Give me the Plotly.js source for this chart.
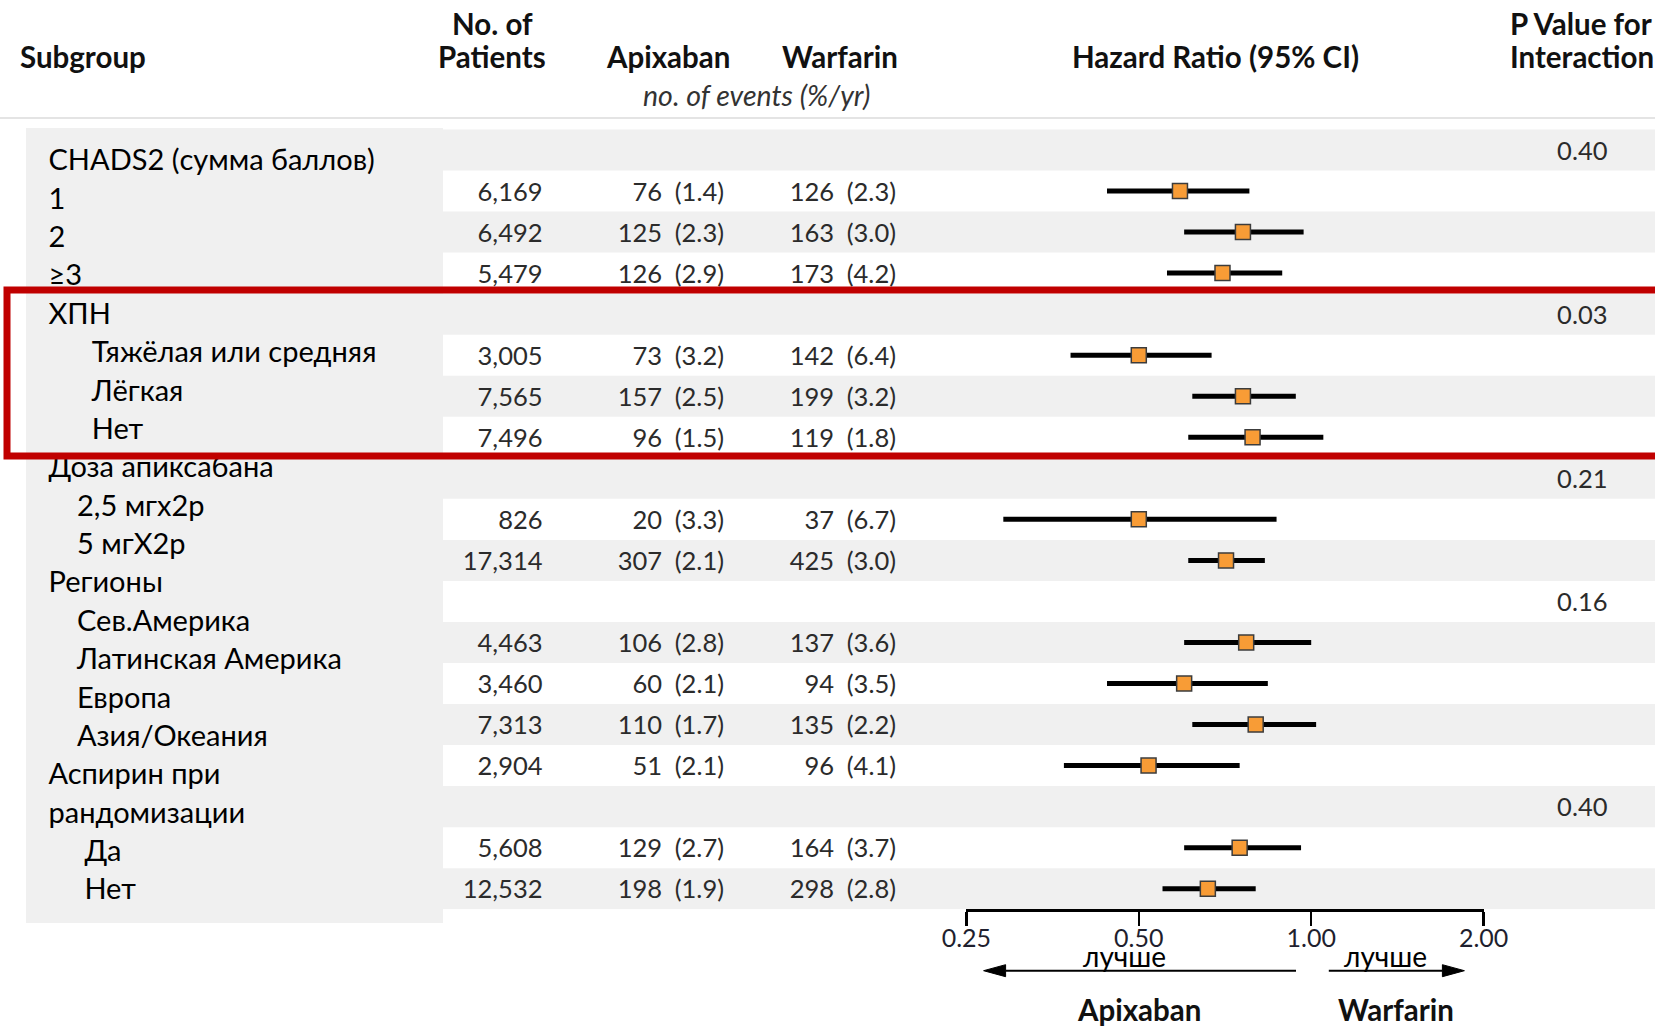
<!DOCTYPE html>
<html>
<head>
<meta charset="utf-8">
<script src="https://cdn.plot.ly/plotly-3.0.1.min.js"></script>
<style>
  html, body { margin: 0; padding: 0; background: #ffffff; }
  #chart { width: 1655px; height: 1028px; }
</style>
</head>
<body>
<div id="chart"></div>
<script>
// ---- Table data: one entry per row of the forest plot (header rows are blank) ----
const PATIENTS = ['', '6,169', '6,492', '5,479', '', '3,005', '7,565', '7,496', '', '826', '17,314', '',
                  '4,463', '3,460', '7,313', '2,904', '', '5,608', '12,532'];
const APIXABAN_EVENTS = ['', '76 (1.4)', '125 (2.3)', '126 (2.9)', '', '73 (3.2)', '157 (2.5)', '96 (1.5)', '',
                         '20 (3.3)', '307 (2.1)', '', '106 (2.8)', '60 (2.1)', '110 (1.7)', '51 (2.1)', '',
                         '129 (2.7)', '198 (1.9)'];
const WARFARIN_EVENTS = ['', '126 (2.3)', '163 (3.0)', '173 (4.2)', '', '142 (6.4)', '199 (3.2)', '119 (1.8)', '',
                         '37 (6.7)', '425 (3.0)', '', '137 (3.6)', '94 (3.5)', '135 (2.2)', '96 (4.1)', '',
                         '164 (3.7)', '298 (2.8)'];
const HR    = [null, 0.59, 0.76, 0.70, null, 0.50, 0.76, 0.79, null, 0.50, 0.71, null, 0.77, 0.60, 0.80, 0.52, null, 0.75, 0.66];
const HR_LO = [null, 0.44, 0.60, 0.56, null, 0.38, 0.62, 0.61, null, 0.29, 0.61, null, 0.60, 0.44, 0.62, 0.37, null, 0.60, 0.55];
const HR_HI = [null, 0.78, 0.97, 0.89, null, 0.67, 0.94, 1.05, null, 0.87, 0.83, null, 1.00, 0.84, 1.02, 0.75, null, 0.96, 0.80];
const P_INTERACTION = ['0.40', '', '', '', '0.03', '', '', '', '0.21', '', '', '0.16', '', '', '', '', '0.40', '', ''];

// Subgroup label column (its own line spacing)
const SUBGROUP_LINES = ['CHADS2 (сумма баллов)', '1', '2', '≥3', 'ХПН', 'Тяжёлая или средняя', 'Лёгкая', 'Нет',
                        'Доза апиксабана', '2,5 мгх2р', '5 мгХ2р', 'Регионы', 'Сев.Америка', 'Латинская Америка',
                        'Европа', 'Азия/Океания', 'Аспирин при', 'рандомизации', 'Да', 'Нет'];
const SUBGROUP_LEVEL = [0, 0, 0, 0, 0, 2, 2, 2, 0, 1, 1, 0, 1, 1, 1, 1, 0, 0, 3, 3];

const HR_TICKS = [0.25, 0.5, 1, 2];
const HR_TICK_TEXT = ['0.25', '0.50', '1.00', '2.00'];

// ---- Layout geometry ----
const W = 1655, H = 1028;
const ROW0_PX = 150, ROW_PX = 41.04;          // centre of row 0 and row pitch
const AXIS_PX = 909.2, TOP_RULE_PX = 118;
const LABEL_TOP_PX = 163, LABEL_STEP_PX = 38.38;
const TEXT_DY = 3.4 / ROW_PX;                 // optical centring of table text
const LEVEL_X = [48.5, 77, 91.8, 84.4];
const COL_PATIENTS_X = 542.5, COL_APIX_X = 724, COL_WARF_X = 896, COL_P_X = 1607.5;
const BAND_X0 = 443, PANEL_X0 = 26;

const FONT = 'Lato, "Open Sans", sans-serif';
const px2py = p => 1 - p / H;
const px2px = p => p / W;
const rowOf = p => (p - ROW0_PX) / ROW_PX;

const rowIdx = PATIENTS.map((_, i) => i);

// ---- Traces ----
// confidence-interval segments
const ciX = [], ciY = [];
rowIdx.forEach(i => {
  if (HR[i] !== null) { ciX.push(HR_LO[i], HR_HI[i], null); ciY.push(i, i, null); }
});
const ciTrace = {
  type: 'scatter', mode: 'lines', x: ciX, y: ciY, xaxis: 'x', yaxis: 'y',
  line: { color: '#000000', width: 5 }, hoverinfo: 'skip', showlegend: false
};
const pointRows = rowIdx.filter(i => HR[i] !== null);
const pointTrace = {
  type: 'scatter', mode: 'markers', x: pointRows.map(i => HR[i]), y: pointRows, xaxis: 'x', yaxis: 'y',
  marker: { symbol: 'square', size: 15, color: '#F89C36', line: { color: '#3c3c3c', width: 1.5 } },
  showlegend: false
};

function textColumn(values, xPx, pos, font) {
  const rows = rowIdx.filter(i => values[i] !== '');
  return {
    type: 'scatter', mode: 'text', xaxis: 'x2', yaxis: 'y',
    x: rows.map(() => xPx), y: rows.map(i => i + TEXT_DY),
    text: rows.map(i => values[i].replace(' ', '\u2002')),
    textposition: pos, textfont: font, cliponaxis: false, hoverinfo: 'skip', showlegend: false
  };
}
const numFont = { family: FONT, size: 25.5, color: '#2b2b2b' };

const labelTrace = {
  type: 'scatter', mode: 'text', xaxis: 'x2', yaxis: 'y',
  x: SUBGROUP_LEVEL.map(l => LEVEL_X[l]),
  y: SUBGROUP_LINES.map((_, i) => rowOf(LABEL_TOP_PX + i * LABEL_STEP_PX)),
  text: SUBGROUP_LINES, textposition: 'middle right',
  textfont: { family: FONT, size: 29, color: '#000000' },
  cliponaxis: false, hoverinfo: 'skip', showlegend: false
};

const traces = [
  ciTrace, pointTrace, labelTrace,
  textColumn(PATIENTS, COL_PATIENTS_X, 'middle left', numFont),
  textColumn(APIXABAN_EVENTS, COL_APIX_X, 'middle left', numFont),
  textColumn(WARFARIN_EVENTS, COL_WARF_X, 'middle left', numFont),
  textColumn(P_INTERACTION, COL_P_X, 'middle left', numFont)
];

// ---- Shapes ----
const shapes = [];
// grey subgroup panel
shapes.push({ type: 'rect', xref: 'paper', yref: 'paper', x0: px2px(PANEL_X0), x1: px2px(BAND_X0),
  y0: px2py(923), y1: px2py(128), fillcolor: '#f0f0f0', line: { width: 0 }, layer: 'below' });
// alternating row bands
rowIdx.forEach(i => {
  if (i % 2 === 0) {
    shapes.push({ type: 'rect', xref: 'paper', yref: 'y', x0: i === 0 ? px2px(PANEL_X0) : px2px(BAND_X0), x1: 1,
      y0: i - 0.5, y1: i + 0.5, fillcolor: '#f0f0f0', line: { width: 0 }, layer: 'below' });
  }
});
// header rule
shapes.push({ type: 'line', xref: 'paper', yref: 'paper', x0: 0, x1: 1, y0: px2py(TOP_RULE_PX), y1: px2py(TOP_RULE_PX),
  line: { color: '#e4e4e4', width: 2 }, layer: 'below' });
// line of no effect (HR = 1, log axis units)
shapes.push({ type: 'line', xref: 'x', yref: 'paper', x0: Math.log10(1), x1: Math.log10(1),
  y0: px2py(AXIS_PX), y1: px2py(120), line: { color: '#000000', width: 2 }, layer: 'below' });
// direction arrows
const ARROW_Y = 970.7;
function arrow(tailPx, tipPx) {
  const dir = tipPx > tailPx ? 1 : -1;
  const base = tipPx - dir * 22;
  shapes.push({ type: 'line', xref: 'paper', yref: 'paper', x0: px2px(tailPx), x1: px2px(base),
    y0: px2py(ARROW_Y), y1: px2py(ARROW_Y), line: { color: '#000000', width: 2 } });
  shapes.push({ type: 'path', xref: 'paper', yref: 'paper',
    path: `M ${px2px(tipPx)} ${px2py(ARROW_Y)} L ${px2px(base)} ${px2py(ARROW_Y - 6)} L ${px2px(base)} ${px2py(ARROW_Y + 6)} Z`,
    fillcolor: '#000000', line: { color: '#000000', width: 1 } });
}
arrow(1296, 983.6);
arrow(1328.8, 1464.4);
// highlight frame
shapes.push({ type: 'rect', xref: 'paper', yref: 'paper', x0: px2px(7), x1: 1.02,
  y0: px2py(456), y1: px2py(290), line: { color: '#C00000', width: 7 }, fillcolor: 'rgba(0,0,0,0)', layer: 'above' });

// ---- Annotations (column headers, axis captions) ----
const headFont = { family: FONT, size: 29.5, color: '#111111' };
function note(text, xPx, yPx, anchor, font) {
  return { text, xref: 'paper', yref: 'paper', x: px2px(xPx), y: px2py(yPx), xanchor: anchor, yanchor: 'middle',
    showarrow: false, borderpad: 0, font };
}
const annotations = [
  note('<b>Subgroup</b>', 19, 56, 'left', headFont),
  note('<b>No. of</b>', 492, 23, 'center', headFont),
  note('<b>Patients</b>', 492, 56, 'center', headFont),
  note('<b>Apixaban</b>', 668, 56, 'center', headFont),
  note('<b>Warfarin</b>', 840, 56, 'center', headFont),
  note('<i>no. of events (%/yr)</i>', 756, 95, 'center', { family: FONT, size: 28.5, color: '#333333' }),
  note('<b>Hazard Ratio (95% CI)</b>', 1215, 56, 'center', headFont),
  note('<b>P Value for</b>', 1509, 23, 'left', headFont),
  note('<b>Interaction</b>', 1509, 56, 'left', headFont),
  note('лучше', 1124, 956, 'center', { family: FONT, size: 28, color: '#000000' }),
  note('лучше', 1385, 956, 'center', { family: FONT, size: 28, color: '#000000' }),
  note('<b>Apixaban</b>', 1139, 1009, 'center', headFont),
  note('<b>Warfarin</b>', 1396, 1009, 'center', headFont)
];

const layout = {
  width: W, height: H,
  margin: { l: 0, r: 0, t: 0, b: 0, pad: 0 },
  paper_bgcolor: '#ffffff', plot_bgcolor: 'rgba(0,0,0,0)',
  showlegend: false,
  xaxis: {
    type: 'log', domain: [px2px(966.4), px2px(1483.6)],
    range: [Math.log10(0.25), Math.log10(2)], anchor: 'y',
    tickvals: HR_TICKS, ticktext: HR_TICK_TEXT,
    ticks: 'outside', ticklen: 14, tickwidth: 2.5, tickcolor: '#000000',
    ticklabelstandoff: -9,
    showline: true, linewidth: 2.5, linecolor: '#000000',
    showgrid: false, zeroline: false,
    tickfont: { family: FONT, size: 25, color: '#1f1f2e' }, fixedrange: true
  },
  xaxis2: { domain: [0, 1], range: [0, W], anchor: 'y', visible: false, fixedrange: true },
  yaxis: {
    domain: [px2py(AXIS_PX), px2py(TOP_RULE_PX)],
    range: [rowOf(AXIS_PX), rowOf(TOP_RULE_PX)],
    visible: false, fixedrange: true
  },
  shapes, annotations
};

Plotly.newPlot('chart', traces, layout, { displayModeBar: false, staticPlot: true });
</script>
</body>
</html>
